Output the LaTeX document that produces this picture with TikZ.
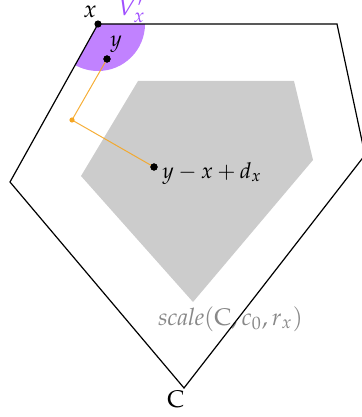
\documentclass[tikz,border=0pt]{standalone}
\usepackage{mathpazo}
\definecolor{vpurple}{RGB}{193,130,255}
\definecolor{vtext}{RGB}{160,80,255}
\definecolor{sgray}{RGB}{204,204,204}
\definecolor{stext}{RGB}{136,136,136}
\definecolor{orng}{RGB}{245,166,35}
\tikzset{
  edge/.style={draw=black, line width=0.6pt, line join=miter},
  bdot/.style={circle, fill=black, inner sep=0pt, minimum size=3.6pt},
  odot/.style={circle, fill=orng, inner sep=0pt, minimum size=2.6pt},
  lbl/.style={inner sep=0pt, anchor=base west},
  olink/.style={draw=orng, line width=0.5pt, draw opacity=0.9}
}
\begin{document}
\begin{tikzpicture}[x=0.5pt, y=-0.5pt, font=\fontsize{11}{13}\selectfont]
\useasboundingbox (0,0) rectangle (361,417);
% scaled polygon
\fill[sgray] (138,81) -- (294,81) -- (313,160) -- (193,302) -- (81,176) -- cycle;
\node[lbl, text=stext, font=\fontsize{12}{14}\selectfont] (scl) at (158,325) {$\mathit{scale}(\mathrm{C}, c_0, r_x)$};
% sector V'_x
\coordinate (x) at (98,24);
\fill[vpurple] (x) -- ++(47,0) arc[start angle=0, end angle=119, radius=47] -- cycle;
% outer polygon
\draw[edge] (x) -- (337,24) -- (365,155) -- (184,388) -- (10,182) -- cycle;
% points
\node[bdot] (xd) at (x) {};
\node[bdot] (yd) at (107,59) {};
\node[odot] (od) at (72,120) {};
\node[bdot] (zd) at (154,167) {};
\draw[olink] (yd.center) -- (od.center) -- (zd.center);
\node[bdot] at (yd) {};
\node[bdot] at (zd) {};
% labels
\node[inner sep=0pt, anchor=base, font=\fontsize{12}{14}\selectfont] (xl) at (90,18) {$x$};
\node[lbl, text=vtext, font=\fontsize{13}{15}\selectfont] (vl) at (117,16) {$V'_x$};
\node[lbl] (yl) at (110,47) {$y$};
\node[lbl] (zl) at (162,178) {$y - x + d_x$};
\node[inner sep=0pt, anchor=base, font=\fontsize{12}{14}\selectfont] (cl) at (176,407) {$\mathrm{C}$};
\end{tikzpicture}
\end{document}
